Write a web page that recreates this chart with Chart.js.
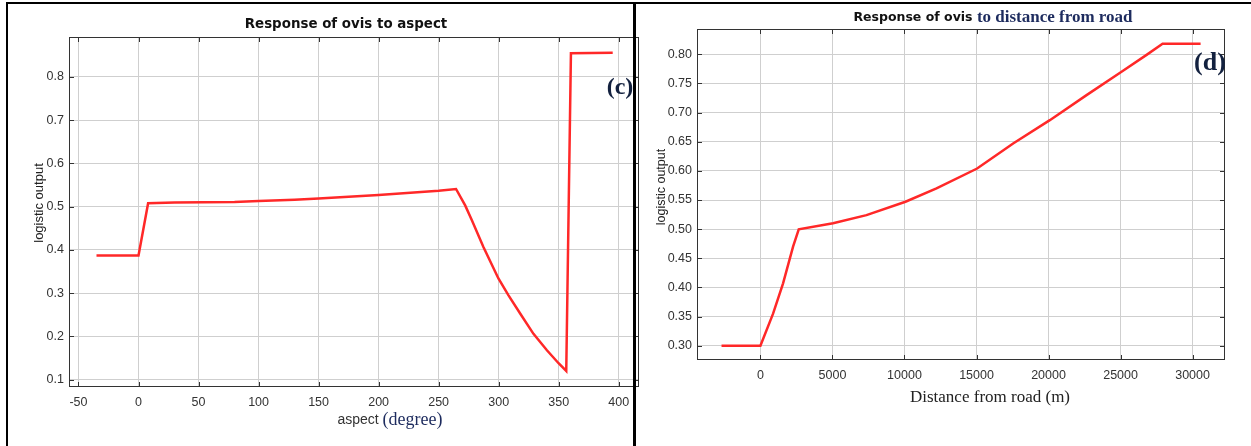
<!DOCTYPE html>
<html>
<head>
<meta charset="utf-8">
<script src="https://cdn.jsdelivr.net/npm/chart.js@4.4.1/dist/chart.umd.min.js"></script>
<style>
    body { margin: 0; background: #fff; }
    #wrap { position: relative; width: 1251px; height: 446px; overflow: hidden; background: #fff; }
    canvas { position: absolute; top: 0; }
    .rule { position: absolute; background: #000; z-index: 5; }
</style>
</head>
<body>
<div id="wrap">
    <canvas id="aspectChart" width="645" height="446" style="left:0"></canvas>
    <canvas id="roadChart" width="611" height="446" style="left:640px"></canvas>
    <div class="rule" style="left:6px;top:2px;width:1245px;height:2px"></div>
    <div class="rule" style="left:6px;top:2px;width:2px;height:444px"></div>
    <div class="rule" style="left:633px;top:2px;width:3px;height:444px"></div>
</div>
<script>
// response curve (c): aspect in degrees
const aspectX = [-35, 0, 8, 30, 80, 100, 130, 150, 200, 250, 264.5, 272.1, 277.6, 287.3, 299.8, 308.2, 317.9, 329, 340.2, 349.9, 356.3, 360.2, 395];
const aspectY = [0.387, 0.387, 0.508, 0.510, 0.511, 0.513, 0.516, 0.519, 0.527, 0.537, 0.541, 0.503, 0.469, 0.407, 0.334, 0.295, 0.253, 0.206, 0.168, 0.138, 0.120, 0.855, 0.856];
const aspectTicksX = [-50, 0, 50, 100, 150, 200, 250, 300, 350, 400];
const aspectTicksY = [0.1, 0.2, 0.3, 0.4, 0.5, 0.6, 0.7, 0.8];

// response curve (d): distance from road in metres
const roadX = [-2700, 0, 878, 1572, 2266, 2660, 5042, 7361, 10069, 12222, 15042, 17542, 20090, 22639, 25069, 26806, 27917, 30556];
const roadY = [0.300, 0.300, 0.355, 0.407, 0.470, 0.4996, 0.510, 0.524, 0.547, 0.570, 0.604, 0.647, 0.687, 0.730, 0.770, 0.799, 0.818, 0.818];
const roadTicksX = [0, 5000, 10000, 15000, 20000, 25000, 30000];
const roadTicksY = [0.30, 0.35, 0.40, 0.45, 0.50, 0.55, 0.60, 0.65, 0.70, 0.75, 0.80];

const sans = '"Liberation Sans", Arial, sans-serif';
const serif = '"Liberation Serif", "Times New Roman", serif';
const navy = '#1d2b5e';

// box, inward tick marks and all the extra text (mixed fonts)
const frame = {
    id: 'frame',
    afterDraw(chart, args, opts) {
        const ctx = chart.ctx;
        const a = chart.chartArea;
        const xs = chart.scales.x, ys = chart.scales.y;
        ctx.save();
        ctx.strokeStyle = '#333';
        ctx.lineWidth = 1;
        ctx.beginPath();
        xs.ticks.forEach(t => {
            const px = Math.round(xs.getPixelForValue(t.value)) + 0.5;
            ctx.moveTo(px, a.bottom); ctx.lineTo(px, a.bottom - 5);
            ctx.moveTo(px, a.top); ctx.lineTo(px, a.top + 5);
        });
        ys.ticks.forEach(t => {
            const py = Math.round(ys.getPixelForValue(t.value)) + 0.5;
            ctx.moveTo(a.left, py); ctx.lineTo(a.left + 5, py);
            ctx.moveTo(a.right, py); ctx.lineTo(a.right - 5, py);
        });
        ctx.stroke();
        ctx.strokeRect(Math.round(a.left) + 0.5, Math.round(a.top) + 0.5, Math.round(a.width) - 1, Math.round(a.height) - 1);

        ctx.textBaseline = 'middle';
        ctx.textAlign = 'left';
        opts.texts.forEach(t => {
            let total = 0;
            t.runs.forEach(r => { ctx.font = r.font; r.w = ctx.measureText(r.text).width; total += r.w; });
            ctx.save();
            ctx.translate(t.cx, t.cy);
            if (t.rotate) ctx.rotate(-Math.PI / 2);
            let x = -total / 2;
            t.runs.forEach(r => {
                ctx.font = r.font;
                ctx.fillStyle = r.color;
                ctx.fillText(r.text, x, 0);
                x += r.w;
            });
            ctx.restore();
        });
        ctx.restore();
    }
};

function makeChart(id, xs, ys, cfg) {
    const points = xs.map((x, i) => ({ x: x, y: ys[i] }));
    return new Chart(document.getElementById(id), {
        type: 'line',
        data: {
            datasets: [{
                data: points,
                borderColor: 'rgb(255, 40, 40)',
                borderWidth: 2.5,
                pointRadius: 0,
                tension: 0,
                fill: false
            }]
        },
        options: {
            responsive: false,
            animation: false,
            devicePixelRatio: 1,
            layout: { padding: cfg.padding },
            scales: {
                x: {
                    type: 'linear',
                    min: cfg.xMin,
                    max: cfg.xMax,
                    afterFit: s => { s.height = cfg.xHeight; },
                    afterBuildTicks: s => { s.ticks = cfg.xTicks.map(v => ({ value: v })); },
                    grid: { color: '#cfcfcf', drawTicks: false },
                    border: { display: false },
                    ticks: {
                        autoSkip: false,
                        maxRotation: 0,
                        padding: 8,
                        color: '#333',
                        font: { family: sans, size: 12.5 },
                        callback: v => String(v)
                    }
                },
                y: {
                    min: cfg.yMin,
                    max: cfg.yMax,
                    afterFit: s => { s.width = cfg.yWidth; },
                    afterBuildTicks: s => { s.ticks = cfg.yTicks.map(v => ({ value: v })); },
                    grid: { color: '#cfcfcf', drawTicks: false },
                    border: { display: false },
                    ticks: {
                        autoSkip: false,
                        padding: 5,
                        color: '#333',
                        font: { family: sans, size: 12.5 },
                        callback: v => v.toFixed(cfg.yDigits)
                    }
                }
            },
            plugins: {
                legend: { display: false },
                tooltip: { enabled: false },
                frame: { texts: cfg.texts }
            }
        },
        plugins: [frame]
    });
}

makeChart('aspectChart', aspectX, aspectY, {
    padding: { top: 37, right: 6, left: 0, bottom: 0 },
    xMin: -57.9, xMax: 416.9, xTicks: aspectTicksX, xHeight: 59,
    yMin: 0.083, yMax: 0.8925, yTicks: aspectTicksY, yWidth: 69, yDigits: 1,
    texts: [
        { cx: 346, cy: 25, runs: [{ text: 'Response of ovis to aspect', font: 'bold 13.4px "DejaVu Sans"', color: '#111' }] },
        { cx: 390, cy: 420, runs: [
            { text: 'aspect ', font: '14px ' + sans, color: '#333' },
            { text: '(degree)', font: '18px ' + serif, color: navy }
        ] },
        { cx: 39, cy: 203, rotate: true, runs: [{ text: 'logistic output', font: '13px ' + sans, color: '#222' }] },
        { cx: 620, cy: 88, runs: [{ text: '(c)', font: 'bold 24px ' + serif, color: '#13213f' }] }
    ]
});

makeChart('roadChart', roadX, roadY, {
    padding: { top: 29, right: 26, left: 0, bottom: 0 },
    xMin: -4403, xMax: 32250, xTicks: roadTicksX, xHeight: 86,
    yMin: 0.2755, yMax: 0.8434, yTicks: roadTicksY, yWidth: 57, yDigits: 2,
    texts: [
        { cx: 353, cy: 18, runs: [
            { text: 'Response of ovis ', font: 'bold 12.5px "DejaVu Sans"', color: '#111' },
            { text: 'to distance from road', font: 'bold 17px ' + serif, color: navy }
        ] },
        { cx: 350, cy: 398, runs: [{ text: 'Distance from road (m)', font: '17px ' + serif, color: '#222' }] },
        { cx: 22, cy: 187, rotate: true, runs: [{ text: 'logistic output', font: '12.5px ' + sans, color: '#222' }] },
        { cx: 570, cy: 63, runs: [{ text: '(d)', font: 'bold 26px ' + serif, color: '#13213f' }] }
    ]
});
</script>
</body>
</html>
